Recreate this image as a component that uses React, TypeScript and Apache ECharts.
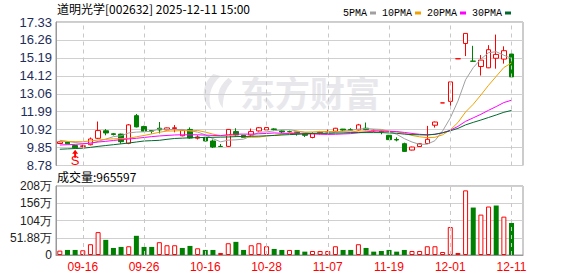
import React, { useEffect, useRef } from 'react';
import * as echarts from 'echarts';

const stockName = '道明光学';
const stockCode = '002632';
const timeStamp = '2025-12-11 15:00';

const dates = [
  '09-11','09-12','09-15','09-16','09-17','09-18','09-19','09-22','09-23','09-24',
  '09-25','09-26','09-29','09-30','10-09','10-10','10-13','10-14','10-15','10-16',
  '10-17','10-20','10-21','10-22','10-23','10-24','10-27','10-28','10-29','10-30',
  '10-31','11-03','11-04','11-05','11-06','11-07','11-10','11-11','11-12','11-13',
  '11-14','11-17','11-18','11-19','11-20','11-21','11-24','11-25','11-26','11-27',
  '11-28','12-01','12-02','12-03','12-04','12-05','12-08','12-09','12-10','12-11',
];
const labelDates = ['09-16','09-26','10-16','10-28','11-07','11-19','12-01','12-11'];

const opens = [
  10.09,10.18,9.97,9.92,10.02,10.40,10.85,10.67,10.65,10.10,
  11.75,11.10,10.86,11.00,10.90,10.98,10.55,10.93,10.41,10.46,
  10.24,9.92,9.92,10.80,10.58,10.60,10.84,10.90,10.96,10.84,
  10.80,10.78,10.66,10.45,10.72,10.78,10.82,10.95,10.92,10.90,
  11.00,10.84,10.84,10.58,10.33,10.08,9.70,9.91,10.09,11.18,
  12.51,12.60,15.14,16.05,15.00,14.68,14.60,15.17,15.12,15.42,
];
const closes = [
  10.19,10.07,9.84,9.95,10.36,10.86,10.72,10.63,10.20,11.20,
  11.08,10.82,10.82,10.90,11.02,11.03,10.88,10.42,10.48,10.24,
  9.88,9.91,10.93,10.60,10.45,10.80,11.03,11.04,10.92,10.78,
  10.79,10.68,10.58,10.68,10.76,10.80,11.00,10.89,10.88,11.20,
  10.92,10.88,10.78,10.32,10.30,9.62,9.88,10.08,10.34,11.37,
  12.51,13.76,15.14,16.65,14.99,15.06,15.68,15.40,15.62,14.06,
];
const lows = [
  10.07,10.05,9.82,9.86,9.98,10.36,10.58,10.57,10.08,10.05,
  11.05,10.78,10.68,10.69,10.88,10.76,10.52,10.38,10.33,10.18,
  9.82,9.90,9.89,10.48,10.44,10.55,10.80,10.88,10.86,10.70,
  10.72,10.56,10.48,10.40,10.64,10.76,10.78,10.80,10.84,10.86,
  10.88,10.78,10.64,10.30,10.22,9.60,9.68,9.90,10.07,11.04,
  12.51,12.25,15.14,15.30,14.99,14.14,14.58,14.55,14.85,14.06,
];
const highs = [
  10.21,10.20,9.99,10.02,10.45,11.40,10.95,10.72,10.68,11.25,
  11.85,11.15,10.88,11.37,11.04,11.19,10.90,11.05,10.58,10.48,
  10.33,10.06,10.95,11.00,10.60,10.98,11.07,11.05,11.00,10.88,
  10.86,10.80,10.70,10.77,10.84,10.92,11.02,10.96,11.00,11.26,
  11.34,10.92,10.86,10.60,10.46,10.14,9.90,10.10,11.14,11.40,
  12.51,13.76,15.14,16.65,15.91,15.36,15.95,16.58,15.88,15.64,
];

const ma5 = [
  10.28,10.22,10.15,10.10,10.08,10.22,10.35,10.50,10.55,10.72,
  10.77,10.79,10.82,10.96,10.93,10.92,10.93,10.85,10.77,10.61,
  10.38,10.19,10.29,10.31,10.35,10.54,10.76,10.78,10.85,10.91,
  10.91,10.84,10.75,10.70,10.70,10.70,10.76,10.83,10.87,10.95,
  10.98,10.95,10.93,10.82,10.64,10.38,10.18,10.04,10.05,10.26,
  10.84,11.61,12.62,13.89,14.61,15.12,15.50,15.56,15.35,15.16,
];
const ma10 = [
  10.22,10.21,10.20,10.20,10.24,10.30,10.34,10.37,10.38,10.40,
  10.49,10.57,10.66,10.76,10.83,10.84,10.86,10.84,10.87,10.77,
  10.65,10.56,10.57,10.54,10.48,10.46,10.47,10.54,10.58,10.63,
  10.73,10.80,10.77,10.78,10.81,10.81,10.80,10.79,10.78,10.83,
  10.84,10.86,10.88,10.84,10.80,10.69,10.57,10.49,10.44,10.46,
  10.61,10.90,11.34,11.97,12.43,12.98,13.56,14.09,14.62,14.89,
];
const ma20 = [
  10.00,10.02,10.04,10.07,10.12,10.18,10.22,10.27,10.32,10.36,
  10.40,10.45,10.50,10.54,10.57,10.60,10.61,10.61,10.61,10.59,
  10.57,10.56,10.62,10.65,10.65,10.65,10.67,10.69,10.72,10.70,
  10.69,10.68,10.67,10.66,10.64,10.63,10.64,10.66,10.68,10.73,
  10.78,10.83,10.82,10.81,10.80,10.75,10.69,10.64,10.61,10.64,
  10.73,10.88,11.11,11.41,11.62,11.83,12.07,12.29,12.53,12.67,
];
const ma30 = [
  9.75,9.77,9.79,9.81,9.86,9.92,9.97,10.02,10.07,10.12,
  10.18,10.24,10.26,10.28,10.34,10.39,10.41,10.43,10.44,10.45,
  10.46,10.47,10.48,10.50,10.51,10.52,10.53,10.55,10.57,10.60,
  10.62,10.64,10.67,10.69,10.70,10.70,10.71,10.72,10.74,10.74,
  10.74,10.74,10.74,10.72,10.70,10.65,10.62,10.61,10.60,10.64,
  10.73,10.85,10.99,11.20,11.35,11.49,11.64,11.79,11.95,12.06,
];

const volumes = [
  132000,152000,152000,142000,324000,688000,455000,212000,243000,263000,
  577000,243000,243000,385000,293000,293000,212000,273000,202000,152000,
  152000,61000,354000,395000,152000,293000,354000,263000,182000,152000,
  152000,152000,101000,121000,121000,121000,263000,152000,152000,324000,
  212000,101000,121000,152000,101000,152000,121000,121000,263000,263000,
  91000,840000,61000,1944000,1427000,1215000,1458000,1488000,1154000,965597,
];
// 1 = red (up vs previous close), 0 = green
const volUp = [
  1,0,0,1,1,1,0,0,0,1,
  0,0,0,1,1,1,0,0,1,0,
  0,1,1,0,0,1,1,1,0,0,
  1,0,0,1,1,1,1,0,0,1,
  0,0,0,0,0,0,1,1,1,1,
  1,1,1,1,0,1,1,0,1,0,
];

const priceMin = 8.78;
const priceMax = 17.33;
const volMax = 2075200;

const maNames = ['5PMA', '10PMA', '20PMA', '30PMA'];
const maColors = ['#a0a0a0', '#f0a000', '#ff00ff', '#00692e'];

const signalDate = '09-15';
const signalArrowPrice = 9.48;
const signalTextPrice = 9.06;

const UP = '#ff0000';
const DOWN = '#008000';

export default function App() {
  const ref = useRef<HTMLDivElement>(null);

  useEffect(() => {
    if (!ref.current) return;
    try {
      echarts.graphic.registerShape(
        'eastLogo',
        echarts.graphic.extendPath(
          'M14 0 C2 10 0 28 12 38 C8 26 10 12 22 2 Z M30 4 C18 14 16 26 24 36 C24 26 26 16 34 8 Z',
          {}
        )
      );
    } catch (e) {}
    const chart = echarts.init(ref.current, null, { renderer: 'svg' });

    const cats = [...dates, ''];
    const candleData = dates.map((_, i) => [opens[i], closes[i], lows[i], highs[i]]);
    const maData = [ma5, ma10, ma20, ma30];

    const markLineCfg = {
      silent: true,
      symbol: ['none', 'none'],
      label: { show: false },
      lineStyle: { type: [4, 4], color: '#c8c8c8', width: 1 },
      data: labelDates.map((d) => ({ xAxis: d })),
    };

    const volFmt = (v: number) => {
      if (v === 0) return '0';
      const w = v / 10000;
      return (w >= 100 ? String(Math.round(w)) : w.toFixed(2)) + '万';
    };
    const priceFmt = (v: number) => (Math.round((v + 1e-9) * 100) / 100).toFixed(2);

    const option: any = {
      animation: false,
      backgroundColor: '#ffffff',
      textStyle: { fontFamily: '"Liberation Sans", Arial, sans-serif' },
      legend: {
        data: maNames,
        left: 338,
        top: 3,
        align: 'right',
        icon: 'rect',
        itemWidth: 6,
        itemHeight: 3,
        itemGap: 6,
        selectedMode: false,
        textStyle: { fontFamily: '"Liberation Mono", monospace', fontSize: 10, color: '#000', padding: [0, -2, 0, 0] },
      },
      graphic: [
        {
          type: 'eastLogo',
          x: 200,
          y: 74,
          scaleX: 0.95,
          scaleY: 0.95,
          z: 0,
          silent: true,
          style: { fill: '#e8e8ec' },
        },
        {
          type: 'text',
          left: 240,
          top: 74,
          z: 0,
          silent: true,
          style: {
            text: '东方财富',
            font: 'bold 35px "Noto Sans CJK SC"',
            fill: '#e8e8ec',
          },
        },
        {
          type: 'text',
          left: 57,
          top: 2,
          style: {
            text: `${stockName}[${stockCode}] ${timeStamp}`,
            font: '12px "Noto Sans CJK SC"',
            fill: '#000',
          },
        },
        {
          type: 'text',
          left: 57,
          top: 170,
          style: {
            text: `成交量:${volumes[volumes.length - 1]}`,
            font: '12px "Noto Sans CJK SC"',
            fill: '#000',
          },
        },
      ],
      grid: [
        { left: 56, top: 22, width: 467, height: 143.5, show: true, borderColor: '#999', borderWidth: 1, backgroundColor: 'transparent' },
        { left: 56, top: 186, width: 467, height: 69, show: true, borderColor: '#999', borderWidth: 1, backgroundColor: 'transparent' },
      ],
      xAxis: [
        {
          type: 'category',
          data: cats,
          gridIndex: 0,
          boundaryGap: true,
          axisLine: { show: false },
          axisTick: { show: false },
          axisLabel: { show: false },
          splitLine: { show: false },
        },
        {
          type: 'category',
          data: cats,
          gridIndex: 1,
          boundaryGap: true,
          axisLine: { show: true, lineStyle: { color: '#999' } },
          axisTick: { show: false },
          axisLabel: {
            color: '#ff0000',
            fontSize: 12,
            margin: 6,
            interval: (_i: number, v: string) => labelDates.includes(v),
          },
          splitLine: { show: false },
        },
      ],
      yAxis: [
        {
          type: 'value',
          gridIndex: 0,
          min: priceMin,
          max: priceMax,
          interval: (priceMax - priceMin) / 8,
          axisLine: { show: true, lineStyle: { color: '#999' } },
          axisTick: { show: false },
          axisLabel: { color: '#1e2d5a', fontSize: 13, margin: 4, formatter: priceFmt },
          splitLine: { show: true, lineStyle: { color: '#d0d0d0', width: 1 } },
        },
        {
          type: 'value',
          gridIndex: 1,
          min: 0,
          max: volMax,
          interval: volMax / 4,
          axisLine: { show: true, lineStyle: { color: '#999' } },
          axisTick: { show: false },
          axisLabel: { color: '#222', fontSize: 12, margin: 4, formatter: volFmt },
          splitLine: { show: true, lineStyle: { color: '#d0d0d0', width: 1 } },
        },
      ],
      series: [
        {
          name: 'K',
          type: 'candlestick',
          xAxisIndex: 0,
          yAxisIndex: 0,
          barWidth: 5,
          data: candleData,
          itemStyle: {
            color: '#ffffff',
            color0: DOWN,
            borderColor: UP,
            borderColor0: DOWN,
            borderWidth: 1,
          },
          markLine: markLineCfg,
          markPoint: {
            silent: true,
            data: [
              {
                coord: [signalDate, signalArrowPrice],
                symbol: 'path://M3 0 L6 4 L4 4 L4 8 L2 8 L2 4 L0 4 Z',
                symbolSize: [6, 8],
                itemStyle: { color: UP },
                label: { show: false },
              },
              {
                coord: [signalDate, signalTextPrice],
                symbol: 'rect',
                symbolSize: 1,
                itemStyle: { color: 'rgba(0,0,0,0)' },
                label: { show: true, position: 'inside', formatter: 'S', color: UP, fontSize: 13, fontFamily: '"Liberation Sans", Arial' },
              },
            ],
          },
        },
        ...maNames.map((n, k) => ({
          name: n,
          type: 'line',
          xAxisIndex: 0,
          yAxisIndex: 0,
          data: maData[k],
          symbol: 'none',
          showSymbol: false,
          smooth: false,
          itemStyle: { color: maColors[k] },
          lineStyle: { color: maColors[k], width: 1 },
          z: 3,
        })),
        {
          name: 'VOL',
          type: 'bar',
          xAxisIndex: 1,
          yAxisIndex: 1,
          barWidth: 5,
          data: volumes.map((v, i) => ({
            value: v,
            itemStyle: volUp[i]
              ? { color: '#ffffff', borderColor: UP, borderWidth: 1 }
              : { color: DOWN, borderColor: DOWN, borderWidth: 0 },
          })),
          markLine: markLineCfg,
        },
      ],
    };

    chart.setOption(option);
    return () => chart.dispose();
  }, []);

  return (
    <div
      ref={ref}
      style={{ position: 'fixed', left: 0, top: 0, width: 578, height: 276, background: '#fff' }}
    />
  );
}
